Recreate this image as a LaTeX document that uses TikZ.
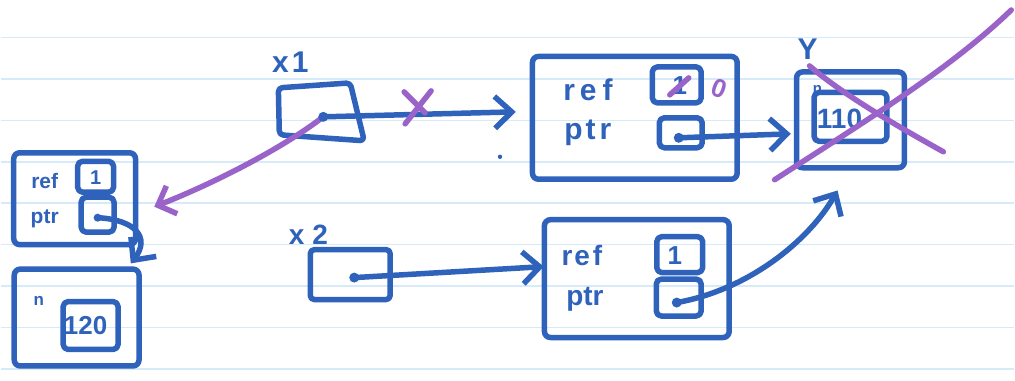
\documentclass[tikz,border=0pt]{standalone}
\usepackage{fontspec}
\setmainfont{Liberation Sans}
\usetikzlibrary{arrows.meta,calc}
\definecolor{penblue}{HTML}{2F62BA}
\definecolor{penpurple}{HTML}{9A63C9}
\definecolor{ruleblue}{HTML}{D6EAF8}

\begin{document}
\begin{tikzpicture}[x=1pt,y=-1pt,
  ink/.style={draw=penblue, line width=5.5pt, line cap=round, line join=round},
  box/.style={ink, rectangle, rounded corners=6pt, inner sep=0pt},
  cell/.style={ink, rectangle, rounded corners=5pt, inner sep=0pt},
  hand/.style={text=penblue, inner sep=0pt, font=\bfseries\fontsize{#1}{#1}\selectfont},
  redo/.style={draw=penpurple, line width=5.5pt, line cap=round, line join=round},
  ptrdot/.style={circle, fill=penblue, inner sep=0pt, minimum size=10pt},
  arr/.style={ink, -{Straight Barb[length=17pt,width=32pt]}},
  parr/.style={redo, -{Straight Barb[length=15pt,width=30pt]}}
]
% ruled paper
\fill[white] (0,0) rectangle (1015,381);
\foreach \k in {0,...,8}
  \draw[ruleblue, line width=1.5pt] (0,37.5+41.5*\k) -- (1015,37.5+41.5*\k);
\useasboundingbox (0,0) rectangle (1015,381);

% ---- variable x1 ----
\node[hand=30] (x1lbl) at (290,62) {x\kern3pt 1};
\draw[ink, rounded corners=4pt] (278,88) -- (350,83) -- (364,141) -- (279,135) -- cycle;
\coordinate (x1dot) at (323,117);

% ---- object referenced by x1 (top) ----
\node[box, minimum width=205pt, minimum height=123pt] (A) at (635,118) {};
\node[hand=30] (Aref) at (588,90) {r\kern5pt e\kern6pt f};
\node[hand=30] (Aptr) at (588,133) {p\kern3pt t\kern4pt r};
\node[cell, minimum width=49pt, minimum height=36pt] (A1) at (677,85) {};
\node[hand=26] (A1v) at (680,86) {1};
\node[cell, minimum width=43pt, minimum height=30pt] (A2) at (681,133) {};
\node[ptrdot] (A2dot) at (679,138) {};
\draw[redo] (670,95) -- (689,78);
\node[hand=26, text=penpurple, rotate=-20] (Anew) at (720,89) {0};

% ---- object Y ----
\node[hand=30] (Ylbl) at (808,49) {Y};
\node[box, minimum width=108pt, minimum height=96pt] (Y) at (851,120) {};
\node[cell, minimum width=73pt, minimum height=49pt] (Y1) at (851,117) {};
\node[hand=15] (Yn) at (818,90) {n};
\node[hand=28] (Yv) at (840,119) {110};

% ---- variable x2 ----
\node[hand=28] (x2lbl) at (308,235) {x\kern8pt 2};
\node[box, rounded corners=4pt, minimum width=80pt, minimum height=50pt] (x2box) at (350,275) {};
\node[ptrdot] (x2dot) at (354,278) {};

% ---- object referenced by x2 (bottom) ----
\node[box, minimum width=185pt, minimum height=118pt] (B) at (637,279) {};
\node[hand=28] (Bref) at (582,256) {r\kern2pt e\kern3pt f};
\node[hand=28] (Bptr) at (585,300) {ptr};
\node[cell, minimum width=46pt, minimum height=36pt] (B1) at (680,255) {};
\node[hand=26] (B1v) at (675,256) {1};
\node[cell, minimum width=45pt, minimum height=37pt] (B2) at (679,298) {};
\node[ptrdot] (B2dot) at (677,303) {};

% ---- left pair of objects ----
\node[box, minimum width=122pt, minimum height=92pt] (C) at (74,199) {};
\node[hand=21] (Cref) at (44,181) {ref};
\node[hand=21] (Cptr) at (44,219) {ptr};
\node[cell, minimum width=36pt, minimum height=31pt] (C1) at (95,177) {};
\node[hand=20] (C1v) at (95,178) {1};
\node[cell, minimum width=33pt, minimum height=35pt] (C2) at (97,215) {};
\node[ptrdot, minimum size=8pt] (C2dot) at (97,218) {};
\node[box, minimum width=125pt, minimum height=97pt] (D) at (76,318) {};
\node[hand=17] (Dn) at (38,301) {n};
\node[cell, minimum width=55pt, minimum height=48pt] (D1) at (90,326) {};
\node[hand=26] (Dv) at (85,326) {120};

% ---- connector end points ----
\coordinate (Aentry) at ($(A.west)+(-14,-6)$);
\coordinate (Yentry) at ($(Y.west)+(-3,14)$);
\coordinate (Ybelow) at ($(Y.south)+(-13,20)$);
\coordinate (Bentry) at ($(B.west)+(2,-12)$);
\coordinate (Centry) at ($(C.east)+(16,8)$);
\coordinate (Dentry) at ($(D.north east)+(-11,-3)$);

% purple re-pointing of x1
\draw[parr] (x1dot) .. controls (280,150) and (210,185) .. (Centry);

% blue pointers
\node[ptrdot] (x1pt) at (x1dot) {};
\draw[arr] (x1pt.center) -- (Aentry);
\draw[redo] (404,92) -- (425,113);
\draw[redo] (431,91) -- (405,124);
\draw[arr] (A2dot.center) -- (Yentry);
\draw[arr] (x2dot.center) -- (Bentry);
\draw[arr] (B2dot.center) .. controls (750,290) and (810,240) .. (Ybelow);
\draw[arr] (C2dot.center) .. controls (135,220) and (150,238) .. (Dentry);
\fill[penblue] (500,157) circle (2.2pt);

% Y crossed out
\draw[redo] (810,66) .. controls (840,92) and (890,122) .. (944,152);
\draw[redo] (775,180) .. controls (860,125) and (950,70) .. (1012,10);
\end{tikzpicture}
\end{document}
